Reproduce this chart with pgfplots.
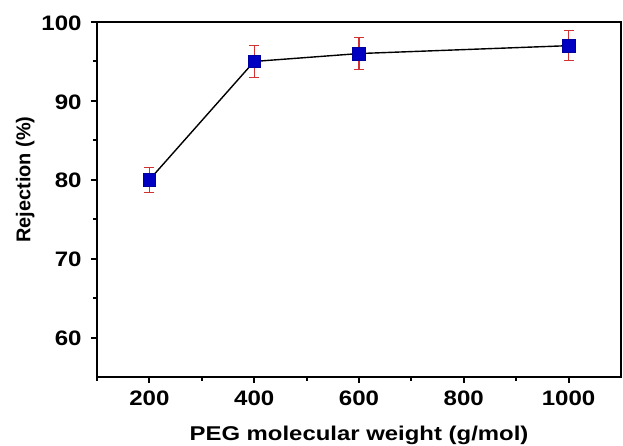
\documentclass[border=0pt]{standalone}
\usepackage{pgfplots}
\pgfplotsset{compat=1.18}
\usepackage{fontspec}
\setmainfont{Liberation Sans}
\definecolor{mkblue}{RGB}{0,0,195}
\definecolor{errred}{RGB}{210,50,50}
\begin{document}
\begin{tikzpicture}
\begin{axis}[
  scale only axis,
  width=524bp, height=355bp,
  xmin=100, xmax=1100, ymin=55, ymax=100,
  xtick={200,400,600,800,1000},
  minor xtick={100,300,500,700,900},
  ytick={60,70,80,90,100},
  minor ytick={65,75,85,95},
  tick align=outside,
  tick pos=left,
  major tick length=6bp,
  minor tick length=4bp,
  every tick/.style={black, line width=2bp},
  axis line style={line width=2.2bp},
  /pgf/number format/assume math mode=true,
  /pgf/number format/1000 sep={},
  ticklabel style={font=\bfseries\fontsize{21}{21}\selectfont, inner sep=0pt, xscale=1.15},
  xticklabel style={anchor=base, yshift=-22bp},
  yticklabel style={anchor=east, xshift=-8bp, yshift=-1bp},
  xlabel={PEG molecular weight (g/mol)},
  ylabel={Rejection (\%)},
  label style={font=\bfseries\fontsize{20}{20}\selectfont, inner sep=0pt},
  xlabel style={at={(axis description cs:0.5,-0.180)}, anchor=base, xscale=1.2},
  ylabel style={at={(axis description cs:-0.137,0.556)}, anchor=center, rotate=0},
]
\addplot[black, line width=1.4bp, mark=square*, mark size=6.3bp,
  mark options={fill=mkblue, draw=mkblue!80!black, line width=0.6bp},
  error bars/.cd, y dir=both, y explicit,
  error bar style={color=errred, line width=1.3bp},
  error mark options={rotate=90, color=errred, mark size=5bp, line width=1.3bp}]
  coordinates {
  (200,80) +- (0,1.6)
  (400,95) +- (0,2)
  (600,96) +- (0,2)
  (1000,97) +- (0,1.9)
};
\draw[line width=2.2bp] (rel axis cs:1,0) -- (rel axis cs:1,1);
\end{axis}
\pgfresetboundingbox
\path[use as bounding box] ([shift={(-97bp,-69bp)}]current axis.south west) rectangle ([shift={(2bp,22bp)}]current axis.north east);
\end{tikzpicture}
\end{document}
